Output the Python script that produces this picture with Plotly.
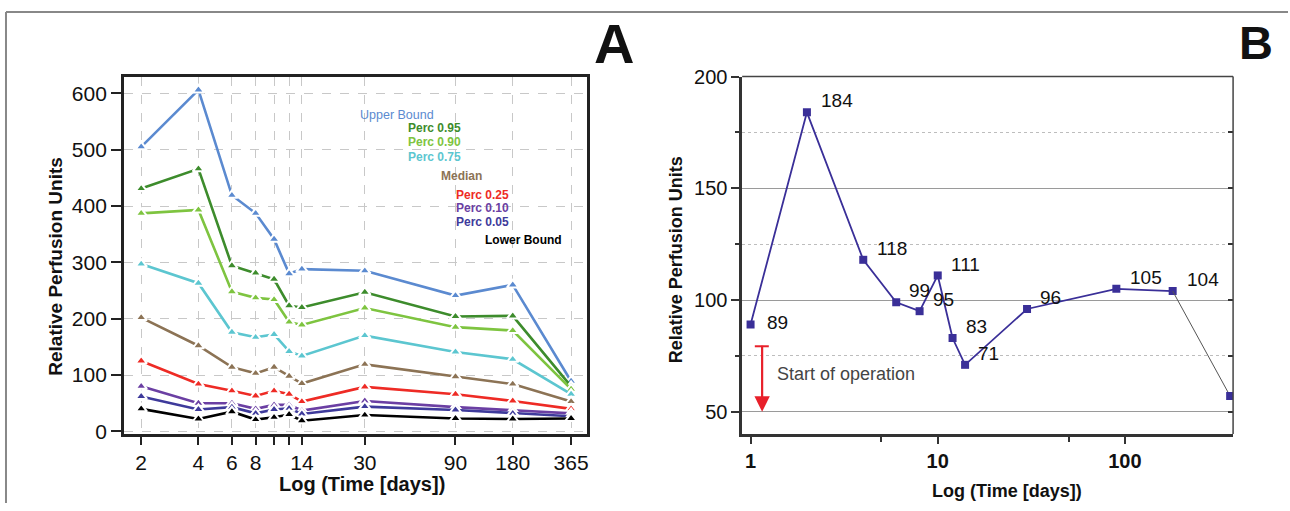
import numpy as np
import plotly.graph_objects as go

# ---------------- Panel A data ----------------
DAYS_A = [2, 4, 6, 8, 10, 12, 14, 30, 90, 180, 365]
TICK_LABELS_A = ["2", "4", "6", "8", "", "", "14", "30", "90", "180", "365"]
UPPER_BOUND = [505, 606, 419, 387, 341, 280, 288, 285, 241, 260, 89]
PERC_095 = [431, 466, 294, 281, 270, 223, 220, 247, 204, 205, 80]
PERC_090 = [387, 393, 248, 237, 234, 194, 189, 219, 185, 179, 75]
PERC_075 = [297, 263, 176, 167, 172, 142, 134, 170, 141, 128, 66]
MEDIAN = [202, 152, 114, 103, 114, 98, 85, 119, 97, 84, 53]
PERC_025 = [125, 84, 72, 63, 72, 66, 53, 79, 66, 54, 40]
PERC_010 = [80, 50, 50, 40, 47, 47, 37, 54, 43, 37, 32]
PERC_005 = [62, 39, 43, 32, 39, 41, 31, 44, 38, 32, 27]
LOWER_BOUND = [40, 22, 35, 21, 25, 30, 19, 29, 23, 22, 23]
SERIES_NAMES = ["Upper Bound", "Perc 0.95", "Perc 0.90", "Perc 0.75", "Median",
                "Perc 0.25", "Perc 0.10", "Perc 0.05", "Lower Bound"]
Y_TICKS_A = [0, 100, 200, 300, 400, 500, 600]

# ---------------- Panel B data ----------------
DAYS_B = [1, 2, 4, 6, 8, 10, 12, 14, 30, 90, 180, 365]
VALUES_B = [89, 184, 118, 99, 95, 111, 83, 71, 96, 105, 104, 57]
X_TICKS_B = [1, 10, 100]
Y_TICKS_B = [50, 100, 150, 200]

# ---------------- styles ----------------
SERIES_A = [UPPER_BOUND, PERC_095, PERC_090, PERC_075, MEDIAN,
            PERC_025, PERC_010, PERC_005, LOWER_BOUND]
COLORS_A = ["#5b8ad0", "#3d8c2c", "#7ec440", "#5cc6d0", "#8c7355",
            "#ee2b25", "#6b3fa3", "#3e3a9b", "#000000"]
LEGEND_POS = [(437, 113), (464, 126), (464, 140), (464, 155), (485, 174),
              (512, 193), (512, 206), (512, 220), (565, 238)]

W, H = 1290, 511
# the page is shown slightly squeezed vertically: screen_y = OFF + SQ * figure_y
SQ, OFF = 0.9625, 8.75
LABEL_YSHIFT_B = [2 / SQ] + [11 / SQ] * 10
LABEL_XSHIFT_B = [14, 12, 12, 11, 11, 11, 11, 11, 11, 12, 12]
FONT = "Arial, Liberation Sans, sans-serif"
LINE_B = "#3a2f98"


def px(x):
    return x / W


def py(y):
    return 1 - ((y - OFF) / SQ) / H


fig = go.Figure()

for name, vals, col in zip(SERIES_NAMES, SERIES_A, COLORS_A):
    fig.add_trace(go.Scatter(
        x=DAYS_A, y=vals, name=name, mode="lines+markers",
        line=dict(color=col, width=2.6),
        marker=dict(symbol="triangle-up", size=10, color=col,
                    line=dict(color="white", width=2)),
        xaxis="x", yaxis="y", showlegend=False))

fig.add_trace(go.Scatter(
    x=DAYS_B[:-1], y=VALUES_B[:-1], mode="lines+markers",
    line=dict(color=LINE_B, width=1.8),
    marker=dict(symbol="square", size=8, color=LINE_B),
    xaxis="x2", yaxis="y2", showlegend=False))
fig.add_trace(go.Scatter(
    x=DAYS_B[-2:], y=VALUES_B[-2:], mode="lines",
    line=dict(color="#555555", width=1),
    xaxis="x2", yaxis="y3", showlegend=False))
fig.add_trace(go.Scatter(
    x=DAYS_B[-1:], y=VALUES_B[-1:], mode="markers",
    marker=dict(symbol="square", size=8, color=LINE_B),
    xaxis="x2", yaxis="y3", showlegend=False))

annotations = []
for name, col, (rx, cy) in zip(SERIES_NAMES, COLORS_A, LEGEND_POS):
    bold = name != "Upper Bound"
    annotations.append(dict(
        xref="paper", yref="paper", x=px(rx), y=py(cy), xanchor="right", yanchor="middle",
        text=f"<b>{name}</b>" if bold else name, showarrow=False,
        font=dict(family=FONT, size=12 if bold else 12.5, color=col)))

for d, v, xs, ys in zip(DAYS_B[:-1], VALUES_B[:-1], LABEL_XSHIFT_B, LABEL_YSHIFT_B):
    annotations.append(dict(
        xref="x2", yref="y2", x=np.log10(d), y=v, xanchor="left", yanchor="middle",
        xshift=xs, yshift=ys, text=str(v), showarrow=False,
        font=dict(family=FONT, size=19, color="#111111")))

annotations.append(dict(
    xref="x2 domain", yref="y2", x=0.0665, y=66.9, xanchor="left", yanchor="middle",
    text="Start of operation", showarrow=False,
    font=dict(family=FONT, size=18, color="#444444")))
annotations.append(dict(
    xref="x2 domain", yref="y2", x=0.0407, y=50, ax=0, ay=-65 / SQ, text="",
    showarrow=True, arrowhead=2, arrowsize=1.4, arrowwidth=2.2, arrowcolor="#e8202a",
    standoff=0))

TITLE_SPECS = [
    (362.5, 481.7, "<b>Log (Time [days])</b>", 20, 0),
    (56, 263.5, "<b>Relative Perfusion Units</b>", 19, -90),
    (1008.7, 488.3, "<b>Log (Time [days])</b>", 18, 0),
    (677, 257, "<b>Relative Perfusion Units</b>", 18, -90),
    (615, 41.7, "<b>A</b>", 56, 0),
    (1258, 40, "<b>B</b>", 47, 0),
]
for cx, cy, txt, size, ang in TITLE_SPECS:
    annotations.append(dict(
        xref="paper", yref="paper", x=px(cx), y=py(cy), xanchor="center", yanchor="middle",
        text=txt, showarrow=False, textangle=ang,
        font=dict(family=FONT, size=size, color="#111")))

TOP_FRAME = 1 - 1 / H
shapes = [
    dict(type="line", xref="paper", yref="paper", x0=px(6), x1=1, y0=TOP_FRAME, y1=TOP_FRAME,
         line=dict(color="#888888", width=2)),
    dict(type="line", xref="paper", yref="paper", x0=px(6), x1=px(6), y0=0, y1=TOP_FRAME,
         line=dict(color="#888888", width=2)),
    dict(type="line", xref="x2 domain", yref="y2 domain", x0=0, x1=1, y0=1, y1=1,
         line=dict(color="#444444", width=1.5)),
    dict(type="line", xref="x2 domain", yref="y2 domain", x0=1, x1=1, y0=0, y1=1,
         line=dict(color="#444444", width=1.5)),
    dict(type="line", xref="x2 domain", yref="y2", x0=0.0258, x1=0.0543, y0=79.3, y1=79.3,
         line=dict(color="#e8202a", width=2)),
]

grid_a = dict(showgrid=True, gridcolor="#c8c8c8", griddash="dash", gridwidth=1)

fig.update_layout(
    width=W, height=H, margin=dict(l=0, r=0, t=0, b=0),
    paper_bgcolor="white", plot_bgcolor="white",
    font=dict(family=FONT, color="#111"),
    xaxis=dict(domain=[px(124), px(588)], anchor="y", type="log",
               range=[np.log10(1.62), np.log10(443)],
               tickmode="array", tickvals=DAYS_A, ticktext=TICK_LABELS_A,
               ticks="outside", ticklen=8, tickwidth=2, tickcolor="#222",
               showline=True, linecolor="#222", linewidth=2.5, mirror=True,
               tickfont=dict(size=21, color="#111"), zeroline=False, **grid_a),
    yaxis=dict(domain=[py(432), py(74.7)], anchor="x", range=[-5.3, 629],
               tickmode="array", tickvals=Y_TICKS_A,
               ticks="outside", ticklen=10, tickwidth=2, tickcolor="#222",
               showline=True, linecolor="#222", linewidth=2.5, mirror=True,
               tickfont=dict(size=21, color="#111"), zeroline=False, **grid_a),
    xaxis2=dict(domain=[px(743.3), px(1235)], anchor="y2", type="log",
                range=[-0.045, 2.578], tickmode="array", tickvals=X_TICKS_B,
                ticktext=["<b>1</b>", "<b>10</b>", "<b>100</b>"],
                ticks="outside", ticklen=7, tickwidth=2, tickcolor="#333",
                minor=dict(tickmode="array", tickvals=[5, 50], ticks="outside",
                           ticklen=5, tickwidth=2, tickcolor="#333", showgrid=False),
                showline=True, linecolor="#333", linewidth=2.5, mirror=False,
                showgrid=False, zeroline=False, tickfont=dict(size=20, color="#111")),
    yaxis2=dict(domain=[py(431.7), py(74.3)], anchor="x2", range=[40, 200],
                tickmode="array", tickvals=Y_TICKS_B,
                ticks="outside", ticklen=8, tickwidth=2, tickcolor="#333",
                minor=dict(dtick=25, tick0=0, ticks="outside", ticklen=4, tickwidth=1.5,
                           tickcolor="#333", showgrid=True, gridcolor="#bdbdbd",
                           griddash="dot", gridwidth=1),
                showline=True, linecolor="#333", linewidth=2.5, mirror=False,
                showgrid=True, gridcolor="#9a9a9a", gridwidth=1, zeroline=False,
                tickfont=dict(size=20, color="#111")),
    yaxis3=dict(overlaying="y2", anchor="x2", side="right", range=[40, 200],
                tickmode="linear", tick0=0, dtick=25, ticks="inside", ticklen=5,
                tickwidth=1.5, tickcolor="#333", showticklabels=False,
                showline=False, showgrid=False, zeroline=False),
    annotations=annotations, shapes=shapes,
)

POST = ("document.documentElement.style.cssText='margin:0;padding:0;overflow:hidden;';"
        "document.body.style.cssText='margin:0;padding:0;overflow:hidden;';")
fig.write_html("out.html", config={"displayModeBar": False}, post_script=POST)
